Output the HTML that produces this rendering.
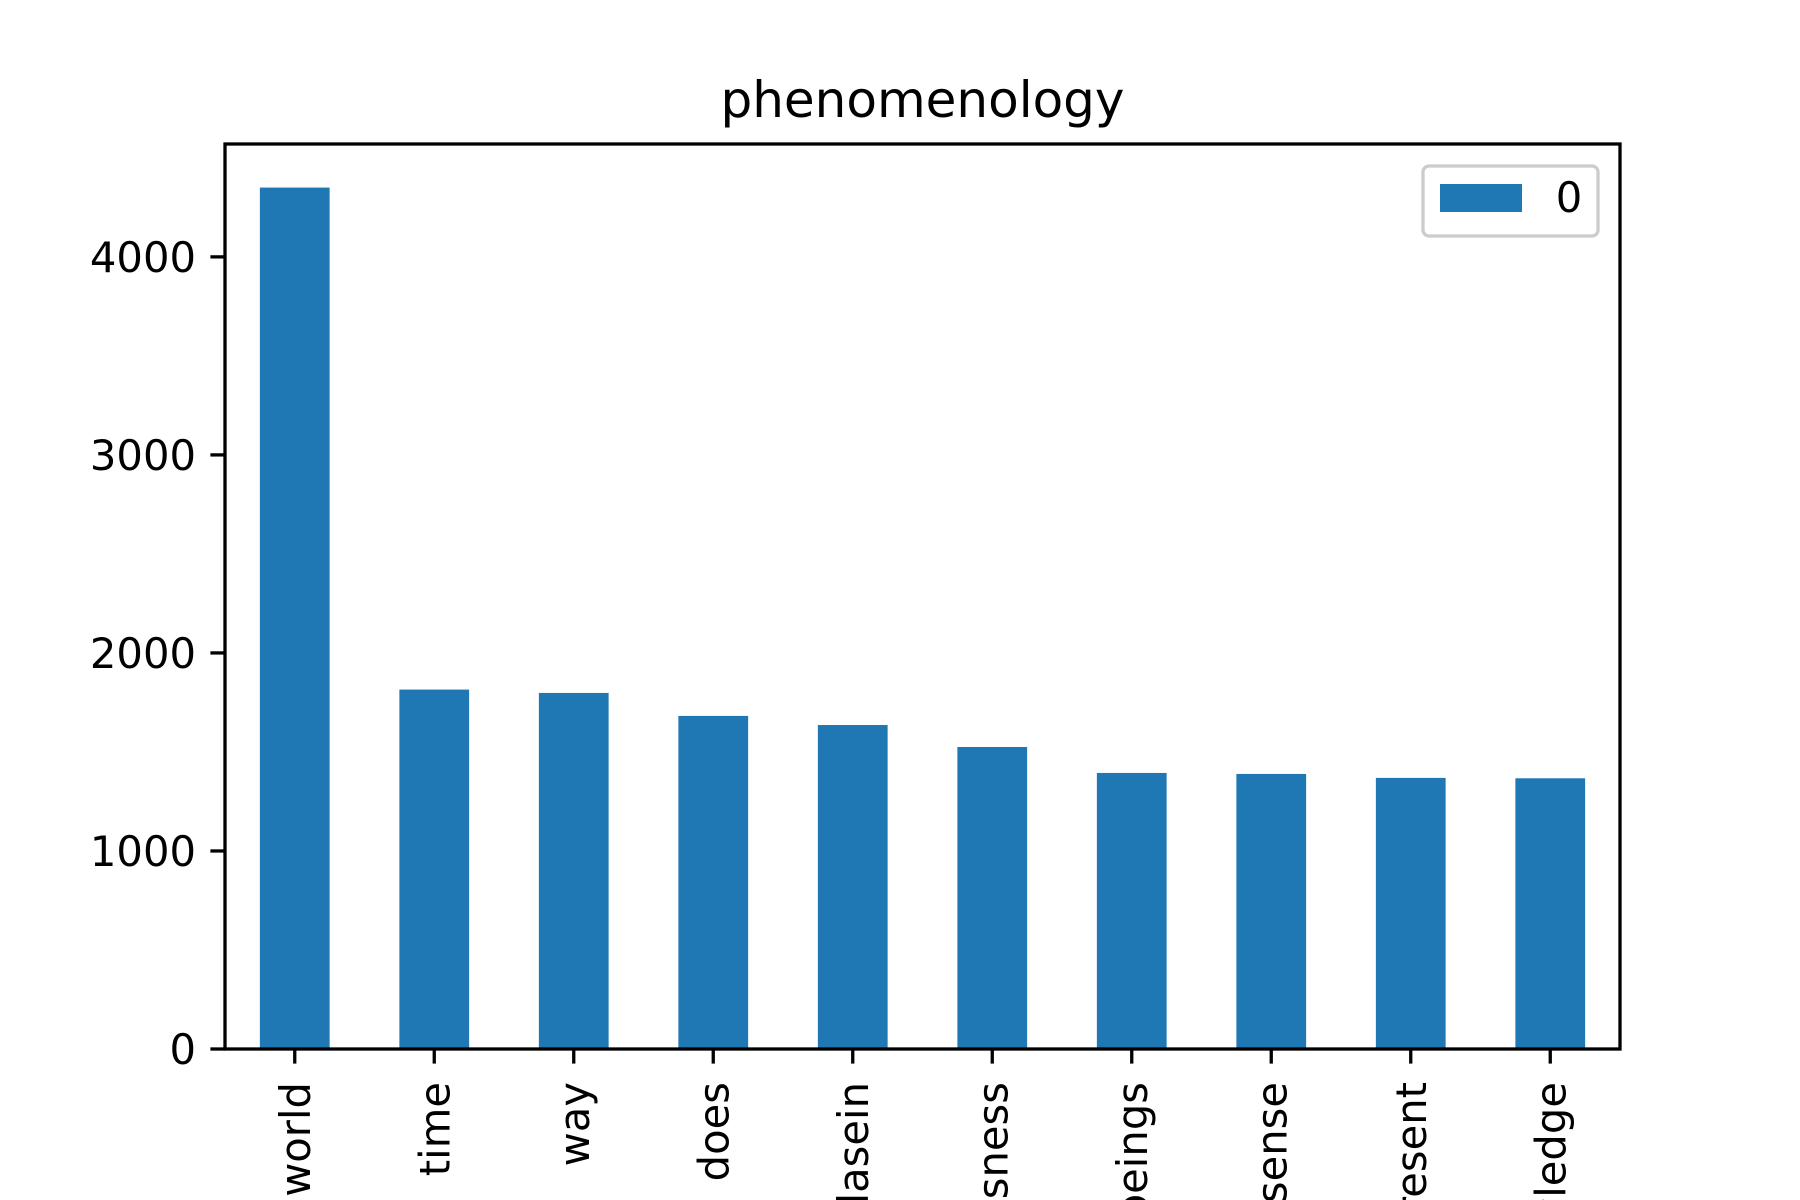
<!DOCTYPE html>
<html><head><meta charset="utf-8"><style>
html,body{margin:0;padding:0;background:#fff;width:1800px;height:1200px;overflow:hidden}
svg{display:block;font-family:"DejaVu Sans","Liberation Sans",sans-serif}
</style></head><body>
<svg id="chart" width="1800" height="1200" viewBox="0 0 1800 1200" overflow="hidden">
<rect width="1800" height="1200" fill="#fff"/>
<text x="922.5" y="117" font-size="50" text-anchor="middle">phenomenology</text>
<g id="bars"></g>
<g id="yticks"></g>
<g id="xticks"></g>
<rect x="225" y="144" width="1395" height="905" fill="none" stroke="#000" stroke-width="3.3"/>
<g>
<rect x="1423" y="166" width="175" height="70" rx="6" fill="#fff" fill-opacity="0.8" stroke="#cccccc" stroke-width="3.3"/>
<rect x="1440" y="184" width="82" height="28" fill="#1f77b4"/>
<text x="1569" y="212" font-size="41.7" text-anchor="middle">0</text>
</g>
</svg>
<script>
const categories = ["world","time","way","does","dasein","consciousness","beings","sense","present","knowledge"];
const values = [4350,1815,1798,1682,1636,1525,1394,1389,1369,1367];
const yTicks = [0,1000,2000,3000,4000];
const yTickLabels = ["0","1000","2000","3000","4000"];

const NS = "http://www.w3.org/2000/svg";
const plotLeft = 225, plotRight = 1620, plotTop = 144, plotBottom = 1049, yMax = 4570;
const step = (plotRight - plotLeft) / categories.length;
function xCenter(i){ return plotLeft + step * (i + 0.5); }
function yScale(v){ return plotBottom - (v / yMax) * (plotBottom - plotTop); }
function mk(tag, attrs){ const e = document.createElementNS(NS, tag); for (const k in attrs) e.setAttribute(k, attrs[k]); return e; }

const barsG = document.getElementById('bars');
values.forEach((v, i) => {
  const w = step * 0.5;
  const r = mk('rect', {x: xCenter(i) - w/2, y: yScale(v), width: w, height: plotBottom - yScale(v), fill: '#1f77b4'});
  
  
  barsG.appendChild(r);
});

const yG = document.getElementById('yticks');
yTicks.forEach((t, i) => {
  const y = yScale(t);
  const l = mk('line', {x1: plotLeft - 14.6, x2: plotLeft, y1: y, y2: y, stroke: '#000', 'stroke-width': 3.3});
  
  
  yG.appendChild(l);
  const tx = mk('text', {x: plotLeft - 29, y: y + 15, 'font-size': 41.7, 'text-anchor': 'end'});
  tx.textContent = yTickLabels[i];
  
  
  yG.appendChild(tx);
});

const xG = document.getElementById('xticks');
categories.forEach((c, i) => {
  const x = xCenter(i);
  const l = mk('line', {x1: x, x2: x, y1: plotBottom, y2: plotBottom + 14.6, stroke: '#000', 'stroke-width': 3.3});
  
  
  xG.appendChild(l);
  const tx = mk('text', {x: 0, y: 0, 'font-size': 41.7, 'text-anchor': 'end', transform: 'translate(' + (x + 15) + ',' + (plotBottom + 33) + ') rotate(-90)'});
  tx.textContent = c;
  
  
  xG.appendChild(tx);
});
</script>
</body></html>
